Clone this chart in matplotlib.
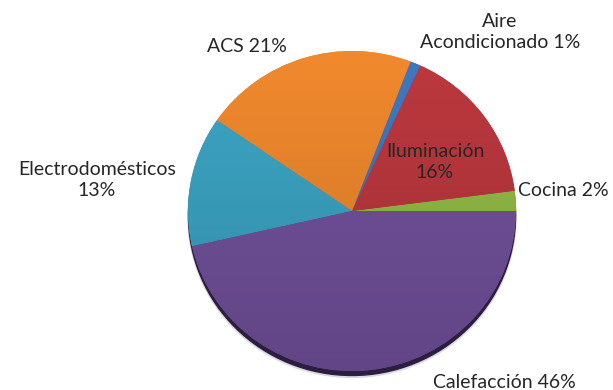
import numpy as np
import matplotlib.pyplot as plt
from matplotlib.patches import Ellipse
from matplotlib.colors import to_rgb

# consumo energetico por uso
names = ['Cocina', 'Iluminación', 'Aire\nAcondicionado', 'ACS', 'Electrodomésticos', 'Calefacción']
shares = [2, 16, 1, 21, 13, 46]
seps = [' ', '\n', ' ', ' ', '\n', ' ']
colors = ['#8fb545', '#b5363c', '#3d74b9', '#e8842c', '#3a9fbd', '#6f4f98']

# centros de las etiquetas (px)
label_pos = [(563, 190), (435, 162), (500, 32), (247, 47), (97, 180), (504, 382)]

W, H = 613, 390
plt.rcParams['font.family'] = ['Lato', 'DejaVu Sans']
fig = plt.figure(figsize=(W / 100, H / 100), dpi=100)

cx, cy, rx, ry = 352, 211, 164, 160
ax = fig.add_axes([(cx - rx) / W, 1 - (cy + ry) / H, 2 * rx / W, 2 * ry / H])

# borde oscuro inferior
ax.add_patch(Ellipse((0, -0.04), 2.0, 2.0, color='#dcd9e0', zorder=0, clip_on=False))
ax.add_patch(Ellipse((0, -0.028), 1.995, 2.0, color='#2c1e40', zorder=0, clip_on=False))

wedges, _ = ax.pie(shares, colors=colors, startangle=0, counterclock=True,
                   radius=1, center=(0, 0))

# degradado vertical en cada sector
yy = np.linspace(1, -1, 200)[:, None] * np.ones((1, 2))
for w, c in zip(wedges, colors):
    base = np.array(to_rgb(c))
    k = 0.96 + 0.08 * yy
    img = np.clip(base[None, None, :] * k[:, :, None], 0, 1)
    im = ax.imshow(img, extent=(-1, 1, -1, 1), aspect='auto', zorder=2, interpolation='bilinear')
    im.set_clip_path(w)

ax.set_aspect('auto')
ax.set_xlim(-1, 1)
ax.set_ylim(-1, 1)
ax.axis('off')

for n, v, s, (x, y) in zip(names, shares, seps, label_pos):
    fig.text(x / W, 1 - y / H, f'{n}{s}{v}%', ha='center', va='center',
             fontsize=14, color='#262626', linespacing=1.35)

fig.savefig('out.png', dpi=100)
